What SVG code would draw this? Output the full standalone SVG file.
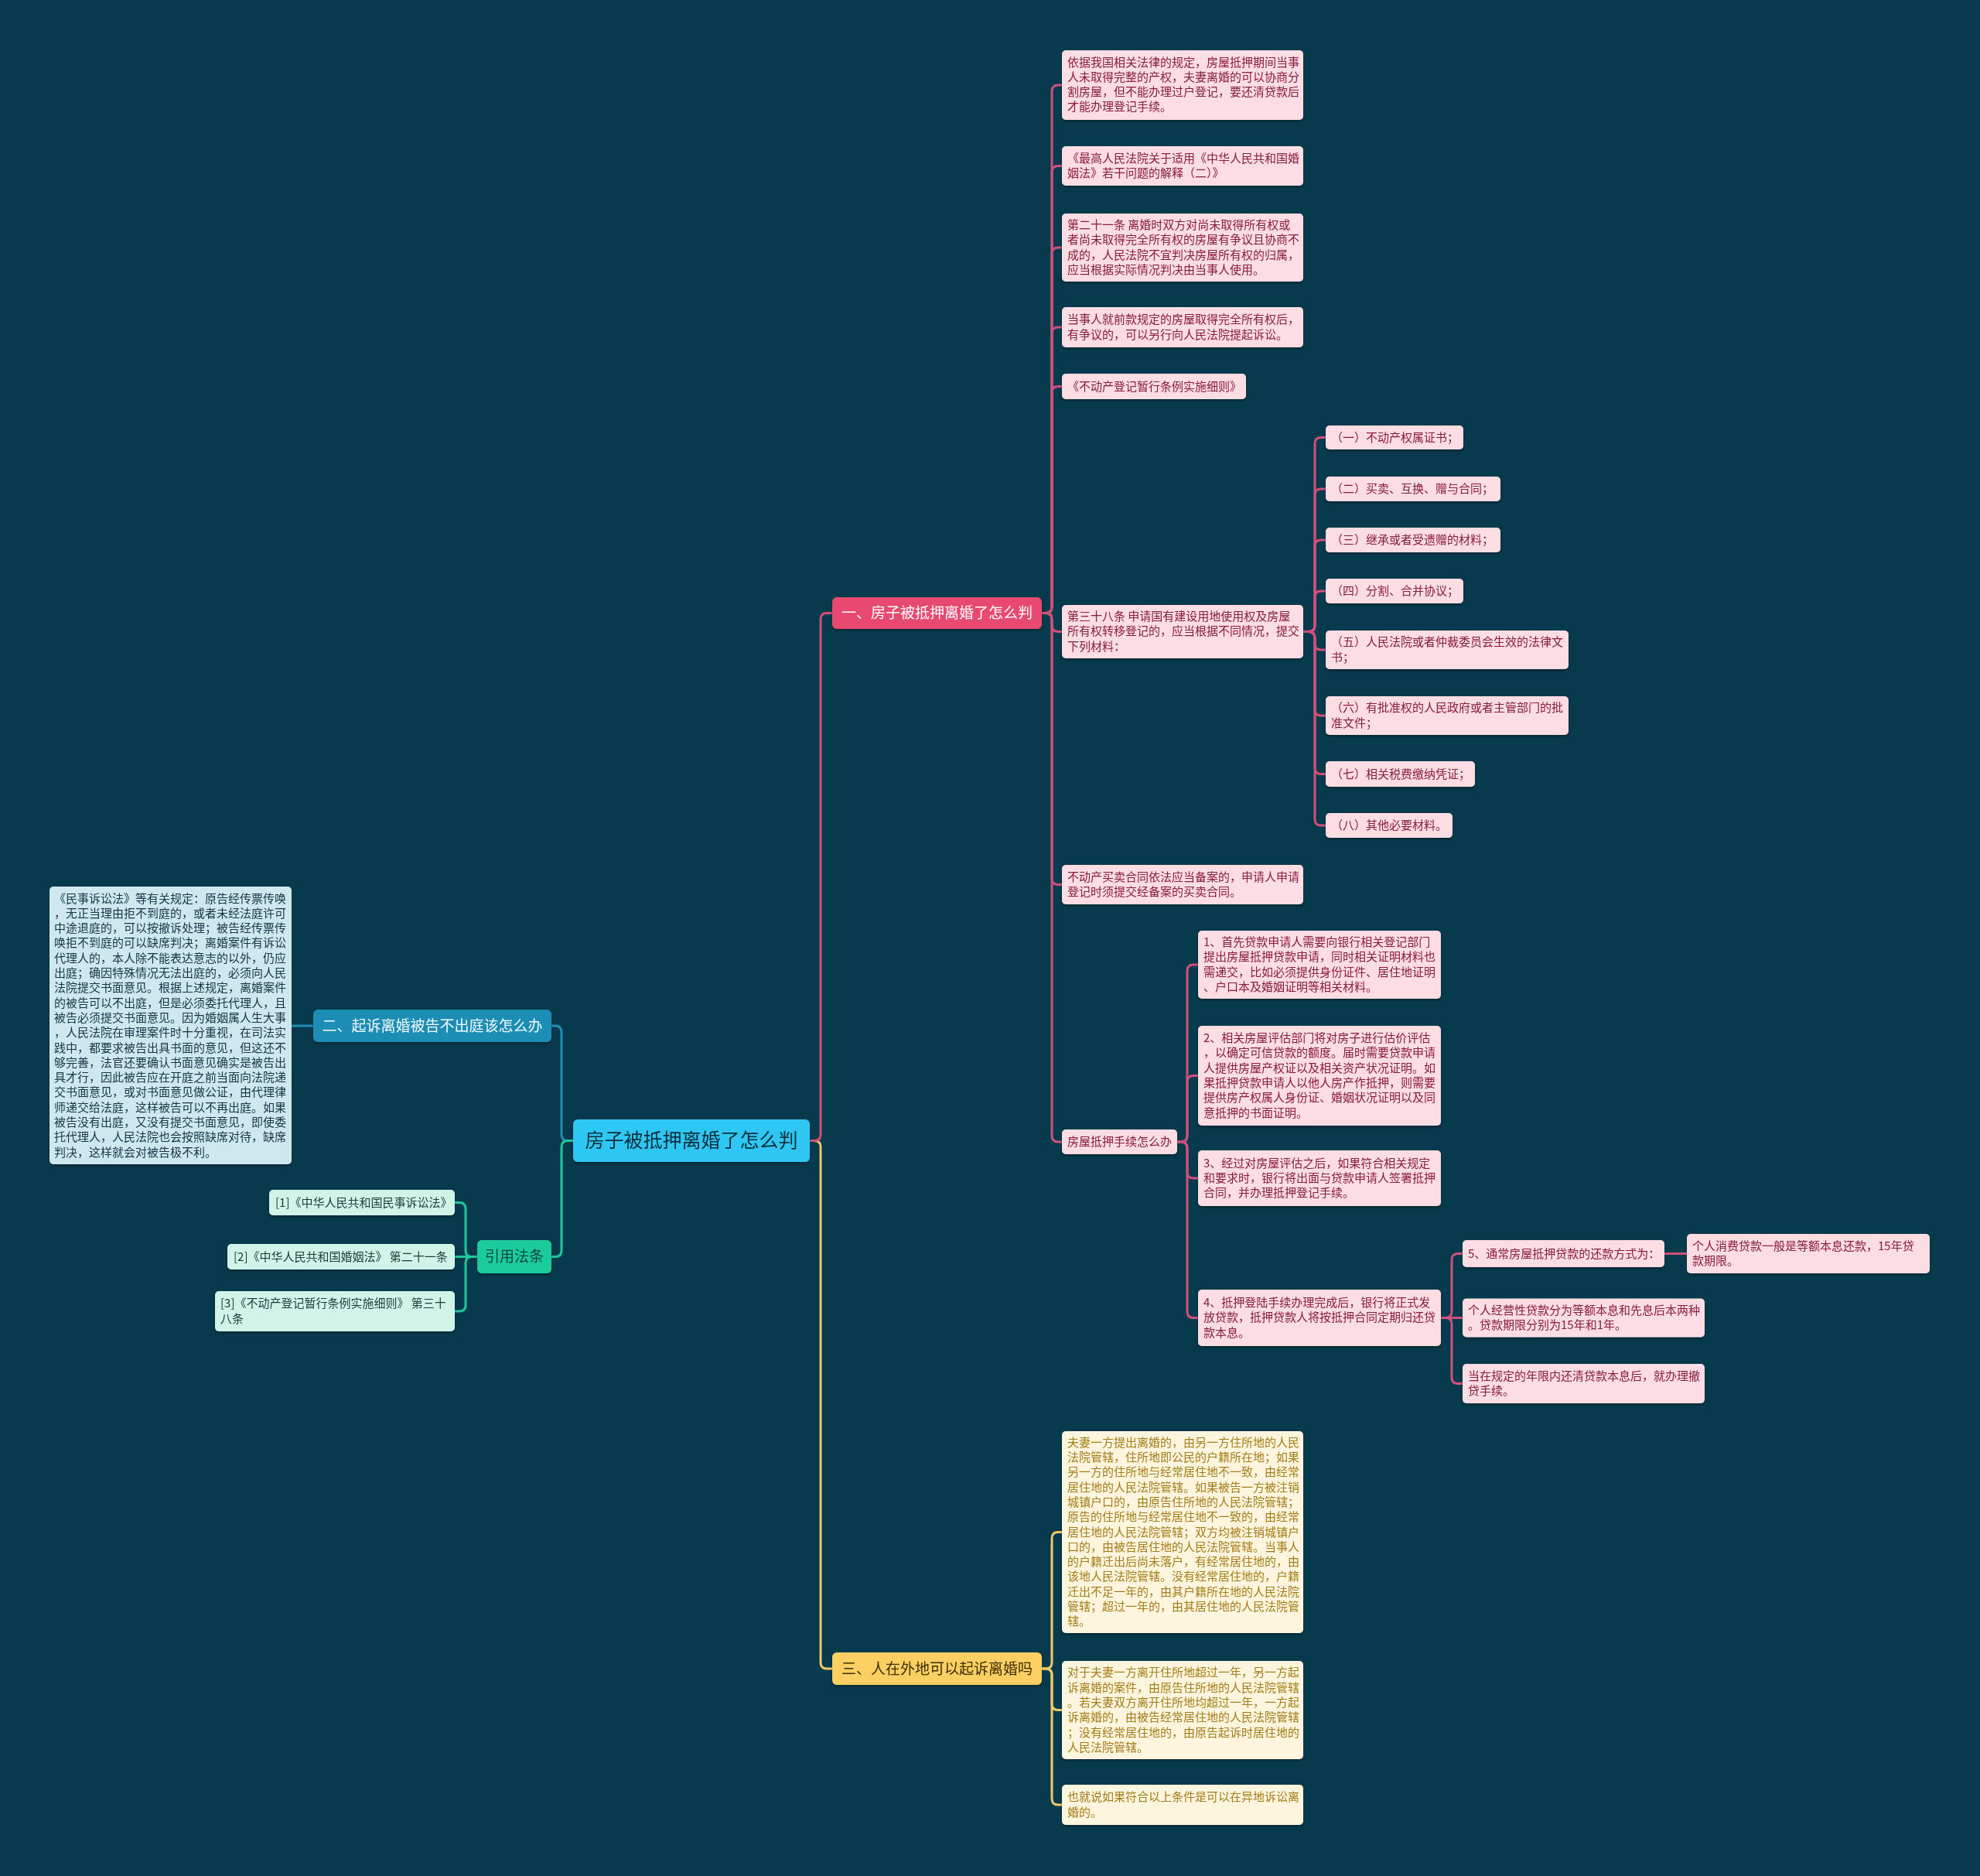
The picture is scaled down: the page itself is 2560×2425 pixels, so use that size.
<svg xmlns="http://www.w3.org/2000/svg" width="2560" height="2425" viewBox="0 0 2560 2425">
<style>
text{font-family:"Noto Sans CJK SC","Noto Sans",sans-serif}
.lf{font-size:15px}
.br{font-size:19px;text-anchor:middle}
.root{font-size:25px;text-anchor:middle;fill:#0e2e3c}
.c{fill:none;stroke-width:3;stroke-linecap:round}
.cr{stroke:#d0507a}.cy{stroke:#f1c865}.cb{stroke:#1f8fb6}.cg{stroke:#21c79c}
.pk rect{fill:#fcdde4}.pk text{fill:#8a1a3c}
.yl rect{fill:#fdf5dd}.yl text{fill:#a67c18}
.bl rect{fill:#cfe7ef}.bl text{fill:#123545}
.gl rect{fill:#d1f4e9}.gl text{fill:#173c38}
</style>
<defs>
<filter id="sh" x="-5%" y="-5%" width="110%" height="120%"><feDropShadow dx="0" dy="2" stdDeviation="1.5" flood-color="#000" flood-opacity="0.35"/></filter>
</defs>
<rect width="2560" height="2425" fill="#073a4c"/>

<g id="connectors">
<path class="c cy" d="M1047,1474.5 H1053 Q1061,1474.5 1061,1482.5 V2149 Q1061,2157 1069,2157 H1076"/>
<path class="c cr" d="M1047,1474.5 H1053 Q1061,1474.5 1061,1466.5 V800.5 Q1061,792.5 1069,792.5 H1076"/>
<path class="c cb" d="M741,1474.5 H734 Q726,1474.5 726,1466.5 V1334 Q726,1326 718,1326 H713"/>
<path class="c cg" d="M741,1474.5 H734 Q726,1474.5 726,1482.5 V1616.5 Q726,1624.5 718,1624.5 H713"/>
<path class="c cb" d="M405,1326 H377"/>
<path class="c cg" d="M617,1624.5 H610 Q602,1624.5 602,1616.5 V1562.5 Q602,1554.5 594,1554.5 H588"/>
<path class="c cg" d="M617,1624.5 H588"/>
<path class="c cg" d="M617,1624.5 H610 Q602,1624.5 602,1632.5 V1687 Q602,1695 594,1695 H588"/>
<path class="c cr" d="M1347,792.5 H1352 Q1360,792.5 1360,784.5 V118 Q1360,110 1368,110 H1373"/>
<path class="c cr" d="M1347,792.5 H1352 Q1360,792.5 1360,784.5 V222.5 Q1360,214.5 1368,214.5 H1373"/>
<path class="c cr" d="M1347,792.5 H1352 Q1360,792.5 1360,784.5 V328 Q1360,320 1368,320 H1373"/>
<path class="c cr" d="M1347,792.5 H1352 Q1360,792.5 1360,784.5 V431 Q1360,423 1368,423 H1373"/>
<path class="c cr" d="M1347,792.5 H1352 Q1360,792.5 1360,784.5 V507.5 Q1360,499.5 1368,499.5 H1373"/>
<path class="c cr" d="M1347,792.5 H1352 Q1360,792.5 1360,800.5 V808.5 Q1360,816.5 1368,816.5 H1373"/>
<path class="c cr" d="M1347,792.5 H1352 Q1360,792.5 1360,800.5 V1135.5 Q1360,1143.5 1368,1143.5 H1373"/>
<path class="c cr" d="M1347,792.5 H1352 Q1360,792.5 1360,800.5 V1468 Q1360,1476 1368,1476 H1373"/>
<path class="c cr" d="M1685,816.5 H1692 Q1700,816.5 1700,808.5 V573.5 Q1700,565.5 1708,565.5 H1714"/>
<path class="c cr" d="M1685,816.5 H1692 Q1700,816.5 1700,808.5 V640 Q1700,632 1708,632 H1714"/>
<path class="c cr" d="M1685,816.5 H1692 Q1700,816.5 1700,808.5 V706 Q1700,698 1708,698 H1714"/>
<path class="c cr" d="M1685,816.5 H1692 Q1700,816.5 1700,808.5 V772 Q1700,764 1708,764 H1714"/>
<path class="c cr" d="M1685,816.5 H1692 Q1700,816.5 1700,824.5 V832 Q1700,840 1708,840 H1714"/>
<path class="c cr" d="M1685,816.5 H1692 Q1700,816.5 1700,824.5 V917 Q1700,925 1708,925 H1714"/>
<path class="c cr" d="M1685,816.5 H1692 Q1700,816.5 1700,824.5 V992.5 Q1700,1000.5 1708,1000.5 H1714"/>
<path class="c cr" d="M1685,816.5 H1692 Q1700,816.5 1700,824.5 V1059 Q1700,1067 1708,1067 H1714"/>
<path class="c cr" d="M1522,1476 H1527 Q1535,1476 1535,1468 V1255 Q1535,1247 1543,1247 H1549"/>
<path class="c cr" d="M1522,1476 H1527 Q1535,1476 1535,1468 V1398.5 Q1535,1390.5 1543,1390.5 H1549"/>
<path class="c cr" d="M1522,1476 H1527 Q1535,1476 1535,1484 V1515 Q1535,1523 1543,1523 H1549"/>
<path class="c cr" d="M1522,1476 H1527 Q1535,1476 1535,1484 V1695.5 Q1535,1703.5 1543,1703.5 H1549"/>
<path class="c cr" d="M1863,1703.5 H1869 Q1877,1703.5 1877,1695.5 V1628.5 Q1877,1620.5 1885,1620.5 H1891"/>
<path class="c cr" d="M1863,1703.5 H1891"/>
<path class="c cr" d="M1863,1703.5 H1869 Q1877,1703.5 1877,1711.5 V1780.5 Q1877,1788.5 1885,1788.5 H1891"/>
<path class="c cr" d="M2152,1620.5 H2181"/>
<path class="c cy" d="M1347,2157 H1352 Q1360,2157 1360,2149 V1988.5 Q1360,1980.5 1368,1980.5 H1373"/>
<path class="c cy" d="M1347,2157 H1352 Q1360,2157 1360,2165 V2202.5 Q1360,2210.5 1368,2210.5 H1373"/>
<path class="c cy" d="M1347,2157 H1352 Q1360,2157 1360,2165 V2325 Q1360,2333 1368,2333 H1373"/>
</g>

<g id="root" filter="url(#sh)">
<rect x="741" y="1447" width="306" height="55" rx="6" fill="#2ec7f4"/>
<text class="root" x="894" y="1483">房子被抵押离婚了怎么判</text>
</g>

<g id="b1" filter="url(#sh)">
<rect x="1076" y="772" width="271" height="41" rx="6" fill="#e84a6f"/>
<text class="br" x="1211.5" y="799" fill="#ffffff">一、房子被抵押离婚了怎么判</text>
</g>
<g id="b2" filter="url(#sh)">
<rect x="405" y="1305" width="308" height="42" rx="6" fill="#1c8db4"/>
<text class="br" x="559" y="1332.5" fill="#f2fbff">二、起诉离婚被告不出庭该怎么办</text>
</g>
<g id="b3" filter="url(#sh)">
<rect x="617" y="1603" width="96" height="43" rx="6" fill="#1fcb9b"/>
<text class="br" x="665" y="1631" fill="#0b4a38">引用法条</text>
</g>
<g id="b4" filter="url(#sh)">
<rect x="1076" y="2136" width="271" height="42" rx="6" fill="#fccf63"/>
<text class="br" x="1211.5" y="2163.5" fill="#3d2f00">三、人在外地可以起诉离婚吗</text>
</g>

<g id="p1" class="pk" filter="url(#sh)">
<rect x="1373" y="65" width="312" height="90" rx="5"/>
<text class="lf"><tspan x="1380" y="85.5">依据我国相关法律的规定，房屋抵押期间当事</tspan><tspan x="1380" dy="19.3">人未取得完整的产权，夫妻离婚的可以协商分</tspan><tspan x="1380" dy="19.3">割房屋，但不能办理过户登记，要还清贷款后</tspan><tspan x="1380" dy="19.3">才能办理登记手续。</tspan></text>
</g>
<g id="p2" class="pk" filter="url(#sh)">
<rect x="1373" y="189" width="312" height="51" rx="5"/>
<text class="lf"><tspan x="1380" y="209.8">《最高人民法院关于适用《中华人民共和国婚</tspan><tspan x="1380" dy="19.3">姻法》若干问题的解释（二）》</tspan></text>
</g>
<g id="p3" class="pk" filter="url(#sh)">
<rect x="1373" y="276" width="312" height="88" rx="5"/>
<text class="lf"><tspan x="1380" y="296">第二十一条 离婚时双方对尚未取得所有权或</tspan><tspan x="1380" dy="19.3">者尚未取得完全所有权的房屋有争议且协商不</tspan><tspan x="1380" dy="19.3">成的，人民法院不宜判决房屋所有权的归属，</tspan><tspan x="1380" dy="19.3">应当根据实际情况判决由当事人使用。</tspan></text>
</g>
<g id="p4" class="pk" filter="url(#sh)">
<rect x="1373" y="397" width="312" height="52" rx="5"/>
<text class="lf"><tspan x="1380" y="418.3">当事人就前款规定的房屋取得完全所有权后，</tspan><tspan x="1380" dy="19.3">有争议的，可以另行向人民法院提起诉讼。</tspan></text>
</g>
<g id="p5" class="pk" filter="url(#sh)">
<rect x="1373" y="483" width="238" height="33" rx="5"/>
<text class="lf" x="1380" y="504.5">《不动产登记暂行条例实施细则》</text>
</g>
<g id="p6" class="pk" filter="url(#sh)">
<rect x="1373" y="782" width="312" height="69" rx="5"/>
<text class="lf"><tspan x="1380" y="802.1">第三十八条 申请国有建设用地使用权及房屋</tspan><tspan x="1380" dy="19.3">所有权转移登记的，应当根据不同情况，提交</tspan><tspan x="1380" dy="19.3">下列材料：</tspan></text>
</g>
<g id="p7" class="pk" filter="url(#sh)">
<rect x="1373" y="1118" width="312" height="51" rx="5"/>
<text class="lf"><tspan x="1380" y="1138.8">不动产买卖合同依法应当备案的，申请人申请</tspan><tspan x="1380" dy="19.3">登记时须提交经备案的买卖合同。</tspan></text>
</g>
<g id="p8" class="pk" filter="url(#sh)">
<rect x="1373" y="1460" width="149" height="32" rx="5"/>
<text class="lf" x="1380" y="1481">房屋抵押手续怎么办</text>
</g>

<g id="s1" class="pk" filter="url(#sh)">
<rect x="1714" y="550" width="178" height="31" rx="5"/>
<text class="lf" x="1721" y="570.5">（一）不动产权属证书；</text>
</g>
<g id="s2" class="pk" filter="url(#sh)">
<rect x="1714" y="616" width="226" height="32" rx="5"/>
<text class="lf" x="1721" y="637">（二）买卖、互换、赠与合同；</text>
</g>
<g id="s3" class="pk" filter="url(#sh)">
<rect x="1714" y="682" width="226" height="32" rx="5"/>
<text class="lf" x="1721" y="703">（三）继承或者受遗赠的材料；</text>
</g>
<g id="s4" class="pk" filter="url(#sh)">
<rect x="1714" y="748" width="178" height="32" rx="5"/>
<text class="lf" x="1721" y="769">（四）分割、合并协议；</text>
</g>
<g id="s5" class="pk" filter="url(#sh)">
<rect x="1714" y="815" width="314" height="50" rx="5"/>
<text class="lf"><tspan x="1721" y="835.3">（五）人民法院或者仲裁委员会生效的法律文</tspan><tspan x="1721" dy="19.3">书；</tspan></text>
</g>
<g id="s6" class="pk" filter="url(#sh)">
<rect x="1714" y="900" width="314" height="50" rx="5"/>
<text class="lf"><tspan x="1721" y="920.3">（六）有批准权的人民政府或者主管部门的批</tspan><tspan x="1721" dy="19.3">准文件；</tspan></text>
</g>
<g id="s7" class="pk" filter="url(#sh)">
<rect x="1714" y="984" width="193" height="33" rx="5"/>
<text class="lf" x="1721" y="1005.5">（七）相关税费缴纳凭证；</text>
</g>
<g id="s8" class="pk" filter="url(#sh)">
<rect x="1714" y="1051" width="164" height="32" rx="5"/>
<text class="lf" x="1721" y="1072">（八）其他必要材料。</text>
</g>

<g id="t1" class="pk" filter="url(#sh)">
<rect x="1549" y="1203" width="314" height="88" rx="5"/>
<text class="lf"><tspan x="1556" y="1223">1、首先贷款申请人需要向银行相关登记部门</tspan><tspan x="1556" dy="19.3">提出房屋抵押贷款申请，同时相关证明材料也</tspan><tspan x="1556" dy="19.3">需递交，比如必须提供身份证件、居住地证明</tspan><tspan x="1556" dy="19.3">、户口本及婚姻证明等相关材料。</tspan></text>
</g>
<g id="t2" class="pk" filter="url(#sh)">
<rect x="1549" y="1326" width="314" height="129" rx="5"/>
<text class="lf"><tspan x="1556" y="1347">2、相关房屋评估部门将对房子进行估价评估</tspan><tspan x="1556" dy="19.3">，以确定可信贷款的额度。届时需要贷款申请</tspan><tspan x="1556" dy="19.3">人提供房屋产权证以及相关资产状况证明。如</tspan><tspan x="1556" dy="19.3">果抵押贷款申请人以他人房产作抵押，则需要</tspan><tspan x="1556" dy="19.3">提供房产权属人身份证、婚姻状况证明以及同</tspan><tspan x="1556" dy="19.3">意抵押的书面证明。</tspan></text>
</g>
<g id="t3" class="pk" filter="url(#sh)">
<rect x="1549" y="1487" width="314" height="72" rx="5"/>
<text class="lf"><tspan x="1556" y="1508.6">3、经过对房屋评估之后，如果符合相关规定</tspan><tspan x="1556" dy="19.3">和要求时，银行将出面与贷款申请人签署抵押</tspan><tspan x="1556" dy="19.3">合同，并办理抵押登记手续。</tspan></text>
</g>
<g id="t4" class="pk" filter="url(#sh)">
<rect x="1549" y="1667" width="314" height="73" rx="5"/>
<text class="lf"><tspan x="1556" y="1689.1">4、抵押登陆手续办理完成后，银行将正式发</tspan><tspan x="1556" dy="19.3">放贷款，抵押贷款人将按抵押合同定期归还贷</tspan><tspan x="1556" dy="19.3">款本息。</tspan></text>
</g>

<g id="u1" class="pk" filter="url(#sh)">
<rect x="1891" y="1603" width="261" height="35" rx="5"/>
<text class="lf" x="1898" y="1625.5">5、通常房屋抵押贷款的还款方式为：</text>
</g>
<g id="u2" class="pk" filter="url(#sh)">
<rect x="1891" y="1678.5" width="313" height="50" rx="5"/>
<text class="lf"><tspan x="1898" y="1698.8">个人经营性贷款分为等额本息和先息后本两种</tspan><tspan x="1898" dy="19.3">。贷款期限分别为15年和1年。</tspan></text>
</g>
<g id="u3" class="pk" filter="url(#sh)">
<rect x="1891" y="1763" width="313" height="51" rx="5"/>
<text class="lf"><tspan x="1898" y="1783.8">当在规定的年限内还清贷款本息后，就办理撤</tspan><tspan x="1898" dy="19.3">贷手续。</tspan></text>
</g>
<g id="v1" class="pk" filter="url(#sh)">
<rect x="2181" y="1595" width="314" height="51" rx="5"/>
<text class="lf"><tspan x="2188" y="1615.8">个人消费贷款一般是等额本息还款，15年贷</tspan><tspan x="2188" dy="19.3">款期限。</tspan></text>
</g>

<g id="y1" class="yl" filter="url(#sh)">
<rect x="1373" y="1850" width="312" height="261" rx="5"/>
<text class="lf"><tspan x="1380" y="1869.7">夫妻一方提出离婚的，由另一方住所地的人民</tspan><tspan x="1380" dy="19.3">法院管辖，住所地即公民的户籍所在地；如果</tspan><tspan x="1380" dy="19.3">另一方的住所地与经常居住地不一致，由经常</tspan><tspan x="1380" dy="19.3">居住地的人民法院管辖。如果被告一方被注销</tspan><tspan x="1380" dy="19.3">城镇户口的，由原告住所地的人民法院管辖；</tspan><tspan x="1380" dy="19.3">原告的住所地与经常居住地不一致的，由经常</tspan><tspan x="1380" dy="19.3">居住地的人民法院管辖；双方均被注销城镇户</tspan><tspan x="1380" dy="19.3">口的，由被告居住地的人民法院管辖。当事人</tspan><tspan x="1380" dy="19.3">的户籍迁出后尚未落户，有经常居住地的，由</tspan><tspan x="1380" dy="19.3">该地人民法院管辖。没有经常居住地的，户籍</tspan><tspan x="1380" dy="19.3">迁出不足一年的，由其户籍所在地的人民法院</tspan><tspan x="1380" dy="19.3">管辖；超过一年的，由其居住地的人民法院管</tspan><tspan x="1380" dy="19.3">辖。</tspan></text>
</g>
<g id="y2" class="yl" filter="url(#sh)">
<rect x="1373" y="2147" width="312" height="127" rx="5"/>
<text class="lf"><tspan x="1380" y="2167.3">对于夫妻一方离开住所地超过一年，另一方起</tspan><tspan x="1380" dy="19.3">诉离婚的案件，由原告住所地的人民法院管辖</tspan><tspan x="1380" dy="19.3">。若夫妻双方离开住所地均超过一年，一方起</tspan><tspan x="1380" dy="19.3">诉离婚的，由被告经常居住地的人民法院管辖</tspan><tspan x="1380" dy="19.3">；没有经常居住地的，由原告起诉时居住地的</tspan><tspan x="1380" dy="19.3">人民法院管辖。</tspan></text>
</g>
<g id="y3" class="yl" filter="url(#sh)">
<rect x="1373" y="2307" width="312" height="52" rx="5"/>
<text class="lf"><tspan x="1380" y="2328.4">也就说如果符合以上条件是可以在异地诉讼离</tspan><tspan x="1380" dy="19.3">婚的。</tspan></text>
</g>

<g id="bl1" class="bl" filter="url(#sh)">
<rect x="64" y="1146" width="313" height="359" rx="5"/>
<text class="lf"><tspan x="70" y="1166.5">《民事诉讼法》等有关规定：原告经传票传唤</tspan><tspan x="70" dy="19.3">，无正当理由拒不到庭的，或者未经法庭许可</tspan><tspan x="70" dy="19.3">中途退庭的，可以按撤诉处理；被告经传票传</tspan><tspan x="70" dy="19.3">唤拒不到庭的可以缺席判决；离婚案件有诉讼</tspan><tspan x="70" dy="19.3">代理人的，本人除不能表达意志的以外，仍应</tspan><tspan x="70" dy="19.3">出庭；确因特殊情况无法出庭的，必须向人民</tspan><tspan x="70" dy="19.3">法院提交书面意见。根据上述规定，离婚案件</tspan><tspan x="70" dy="19.3">的被告可以不出庭，但是必须委托代理人，且</tspan><tspan x="70" dy="19.3">被告必须提交书面意见。因为婚姻属人生大事</tspan><tspan x="70" dy="19.3">，人民法院在审理案件时十分重视，在司法实</tspan><tspan x="70" dy="19.3">践中，都要求被告出具书面的意见，但这还不</tspan><tspan x="70" dy="19.3">够完善，法官还要确认书面意见确实是被告出</tspan><tspan x="70" dy="19.3">具才行，因此被告应在开庭之前当面向法院递</tspan><tspan x="70" dy="19.3">交书面意见，或对书面意见做公证，由代理律</tspan><tspan x="70" dy="19.3">师递交给法庭，这样被告可以不再出庭。如果</tspan><tspan x="70" dy="19.3">被告没有出庭，又没有提交书面意见，即使委</tspan><tspan x="70" dy="19.3">托代理人，人民法院也会按照缺席对待，缺席</tspan><tspan x="70" dy="19.3">判决，这样就会对被告极不利。</tspan></text>
</g>

<g id="g1" class="gl" filter="url(#sh)">
<rect x="348" y="1538" width="240" height="33" rx="5"/>
<text class="lf" x="356" y="1559.5">[1]《中华人民共和国民事诉讼法》</text>
</g>
<g id="g2" class="gl" filter="url(#sh)">
<rect x="294" y="1608" width="294" height="33" rx="5"/>
<text class="lf" x="302" y="1629.5">[2]《中华人民共和国婚姻法》 第二十一条</text>
</g>
<g id="g3" class="gl" filter="url(#sh)">
<rect x="278" y="1669" width="310" height="52" rx="5"/>
<text class="lf"><tspan x="285" y="1690.4">[3]《不动产登记暂行条例实施细则》 第三十</tspan><tspan x="285" dy="19.3">八条</tspan></text>
</g>
</svg>
